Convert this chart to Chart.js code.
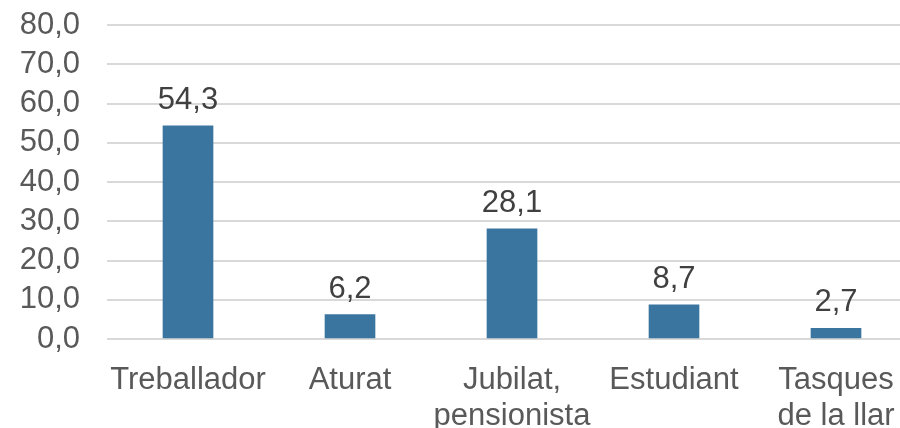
<!DOCTYPE html>
<html>
<head>
<meta charset="utf-8">
<script src="https://cdn.jsdelivr.net/npm/chart.js@4"></script>
<style>
    html, body { margin: 0; padding: 0; background: #fff; overflow: hidden; }
    #wrap { width: 917px; height: 428px; }
</style>
</head>
<body>
<div id="wrap"><canvas id="chart"></canvas></div>
<script>
// Chart data
const categories = ['Treballador', 'Aturat', ['Jubilat,', 'pensionista'], 'Estudiant', ['Tasques', 'de la llar']];
const values = [54.3, 6.2, 28.1, 8.7, 2.7];
const yTicks = [0, 10, 20, 30, 40, 50, 60, 70, 80];

const fmt = v => v.toFixed(1).replace('.', ',');

// draws the value above each bar
const barLabels = {
    id: 'barLabels',
    afterDatasetsDraw(chart) {
        const ctx = chart.ctx;
        const meta = chart.getDatasetMeta(0);
        ctx.save();
        ctx.font = '31px "Liberation Sans", Arial, sans-serif';
        ctx.fillStyle = '#404040';
        ctx.textAlign = 'center';
        ctx.textBaseline = 'bottom';
        meta.data.forEach((bar, i) => {
            ctx.fillText(fmt(values[i]), bar.x, bar.y - 10);
        });
        ctx.restore();
    }
};

new Chart(document.getElementById('chart'), {
    type: 'bar',
    data: {
        labels: categories,
        datasets: [{
            data: values,
            backgroundColor: '#3A75A0',
            barThickness: 50
        }]
    },
    options: {
        responsive: true,
        maintainAspectRatio: false,
        animation: false,
        layout: { padding: { top: 25, left: 0, right: 0, bottom: 0 } },
        plugins: {
            legend: { display: false },
            tooltip: { enabled: false }
        },
        scales: {
            x: {
                grid: { display: false },
                border: { display: false },
                ticks: {
                    color: '#595959',
                    padding: 16,
                    maxRotation: 0,
                    autoSkip: false,
                    font: { family: '"Liberation Sans", Arial, sans-serif', size: 31, lineHeight: 1.15 }
                },
                afterFit(scale) {
                    scale.height = 89;
                    scale.paddingTop = 0; scale.paddingBottom = 0;
                    scale.paddingLeft = 0; scale.paddingRight = 0;
                }
            },
            y: {
                min: 0,
                max: 80,
                afterBuildTicks(scale) { scale.ticks = yTicks.map(v => ({ value: v })); },
                grid: { color: '#d9d9d9', lineWidth: 2, drawTicks: false },
                border: { display: false },
                ticks: {
                    color: '#595959',
                    padding: 27,
                    autoSkip: false,
                    callback: v => fmt(v),
                    font: { family: '"Liberation Sans", Arial, sans-serif', size: 31 }
                },
                afterFit(scale) {
                    scale.width = 107;
                    scale.paddingTop = 0; scale.paddingBottom = 0;
                }
            }
        }
    },
    plugins: [barLabels]
});
</script>
</body>
</html>
